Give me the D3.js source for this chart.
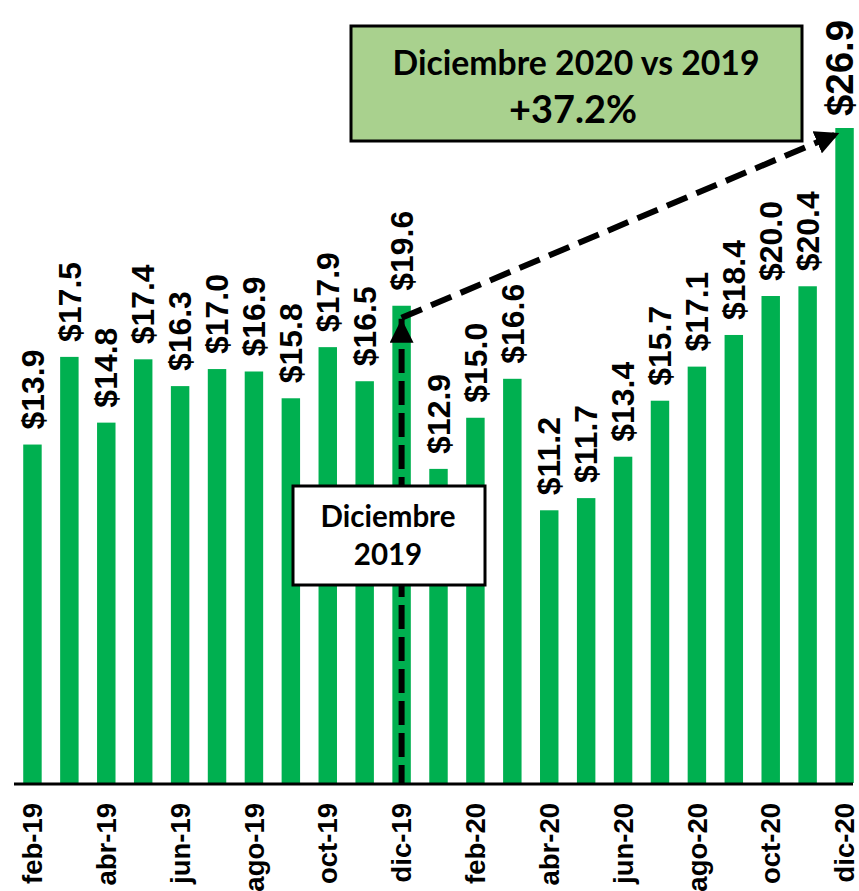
<!DOCTYPE html>
<html><head><meta charset="utf-8">
<script src="https://cdn.jsdelivr.net/npm/d3@7"></script>
<style>html,body{margin:0;padding:0;background:#fff;} svg{display:block;}</style>
</head><body>
<svg id="chart" width="859" height="891"></svg>
<script>
const months = ["feb-19","mar-19","abr-19","may-19","jun-19","jul-19","ago-19","sep-19","oct-19","nov-19","dic-19","ene-20","feb-20","mar-20","abr-20","may-20","jun-20","jul-20","ago-20","sep-20","oct-20","nov-20","dic-20"];
const values = [13.9,17.5,14.8,17.4,16.3,17.0,16.9,15.8,17.9,16.5,19.6,12.9,15.0,16.6,11.2,11.7,13.4,15.7,17.1,18.4,20.0,20.4,26.9];
const tickLabels = ["feb-19","abr-19","jun-19","ago-19","oct-19","dic-19","feb-20","abr-20","jun-20","ago-20","oct-20","dic-20"];
const compareTitle = "Diciembre 2020 vs 2019";
const compareValue = "+37.2%";
const baseNoteLines = ["Diciembre","2019"];
const baseMonth = "dic-19";
const lastMonth = "dic-20";

const svg = d3.select("#chart");
const x = d3.scaleBand().domain(months).range([14, 863]).paddingInner(0.5).paddingOuter(0.25);
const y = d3.scaleLinear().domain([0, 26.9]).range([783, 128]);
const green = "#00B050";
const sansBold = "Liberation Sans, Arial, Helvetica, sans-serif";
const boxFont = "Lato, 'Open Sans', sans-serif";

// measure helper: font size so that text's advance width = target
function sizeFor(str, family, target){
  const t = svg.append("text").attr("font-family",family).attr("font-weight","bold").attr("font-size",100).text(str);
  const w = t.node().getComputedTextLength();
  t.remove();
  return 100*target/w;
}
const valueFs = sizeFor("$13.9", sansBold, 80);
const lastFs = sizeFor("$26.9", sansBold, 96);
const tickFs = sizeFor("feb-19", sansBold, 81);

// bars
svg.append("g").selectAll("rect").data(values).join("rect")
  .attr("x", (d,i)=>x(months[i]))
  .attr("width", x.bandwidth())
  .attr("y", d=>y(d))
  .attr("height", d=>y(0)-y(d))
  .attr("fill", green);

// axis
const xAxis = d3.axisBottom(x).tickValues(tickLabels).tickSize(0).tickPadding(0);
const gx = svg.append("g").attr("transform", `translate(0,${y(0)+1})`).call(xAxis);
gx.attr("font-family", sansBold);
gx.select(".domain").attr("d", `M14,0H853`).attr("stroke","#000").attr("stroke-width",3);
gx.selectAll(".tick text")
  .attr("transform","translate(0,19) rotate(-90)")
  .attr("x",0).attr("y",0).attr("dy","0.35em")
  .attr("text-anchor","end")
  .attr("font-family", sansBold).attr("font-weight","bold").attr("font-size",tickFs).attr("fill","#000");

// value labels
svg.append("g").selectAll("text").data(values).join("text")
  .attr("transform",(d,i)=>{
    const last = i===values.length-1;
    return `translate(${x(months[i])+x.bandwidth()/2-(last?5:0)},${y(d)-(last?12:15)}) rotate(-90)`;
  })
  .attr("dy","0.35em")
  .attr("text-anchor","start")
  .attr("font-family", sansBold).attr("font-weight","bold")
  .attr("font-size",(d,i)=> i===values.length-1 ? lastFs : valueFs)
  .text(d=>"$"+d.toFixed(1));

// defs: arrowheads
const defs = svg.append("defs");
defs.append("marker").attr("id","arr").attr("viewBox","0 0 10 10").attr("refX",10).attr("refY",5)
  .attr("markerWidth",4).attr("markerHeight",4).attr("markerUnits","strokeWidth").attr("orient","auto")
  .append("path").attr("d","M0,0L10,5L0,10z").attr("fill","#000");

const bx = x(baseMonth)+x.bandwidth()/2;
const lx = x(lastMonth);
// vertical dashed arrow
svg.append("line").attr("x1",bx).attr("x2",bx).attr("y1",y(0)).attr("y2",y(values[months.indexOf(baseMonth)])+13)
  .attr("stroke","#000").attr("stroke-width",6).attr("stroke-dasharray","24,8").attr("stroke-dashoffset",6)
  .attr("marker-end","url(#arr)");
// diagonal dashed arrow
svg.append("line").attr("x1",bx).attr("y1",y(values[months.indexOf(baseMonth)])+12)
  .attr("x2",lx+4).attr("y2",y(values[values.length-1])+5)
  .attr("stroke","#000").attr("stroke-width",6).attr("stroke-dasharray","22,10")
  .attr("marker-end","url(#arr)");

// green comparison box
svg.append("rect").attr("x",351).attr("y",26).attr("width",451).attr("height",115)
  .attr("fill","#A9D18E").attr("stroke","#000").attr("stroke-width",3);
svg.append("text").attr("x",576).attr("y",75).attr("text-anchor","middle")
  .attr("font-family",boxFont).attr("font-weight","bold").attr("font-size",sizeFor(compareTitle,boxFont,367)).text(compareTitle);
svg.append("text").attr("x",573).attr("y",123).attr("text-anchor","middle")
  .attr("font-family",boxFont).attr("font-weight","bold").attr("font-size",sizeFor(compareValue,boxFont,128)).text(compareValue);

// white note box
svg.append("rect").attr("x",293).attr("y",486).attr("width",192).attr("height",99)
  .attr("fill","#fff").attr("stroke","#000").attr("stroke-width",3);
const noteFs = sizeFor(baseNoteLines[0], boxFont, 135);
svg.append("text").attr("x",388).attr("y",527).attr("text-anchor","middle")
  .attr("font-family",boxFont).attr("font-weight","bold").attr("font-size",noteFs).text(baseNoteLines[0]);
svg.append("text").attr("x",388).attr("y",565).attr("text-anchor","middle")
  .attr("font-family",boxFont).attr("font-weight","bold").attr("font-size",noteFs).text(baseNoteLines[1]);
</script>
</body></html>
